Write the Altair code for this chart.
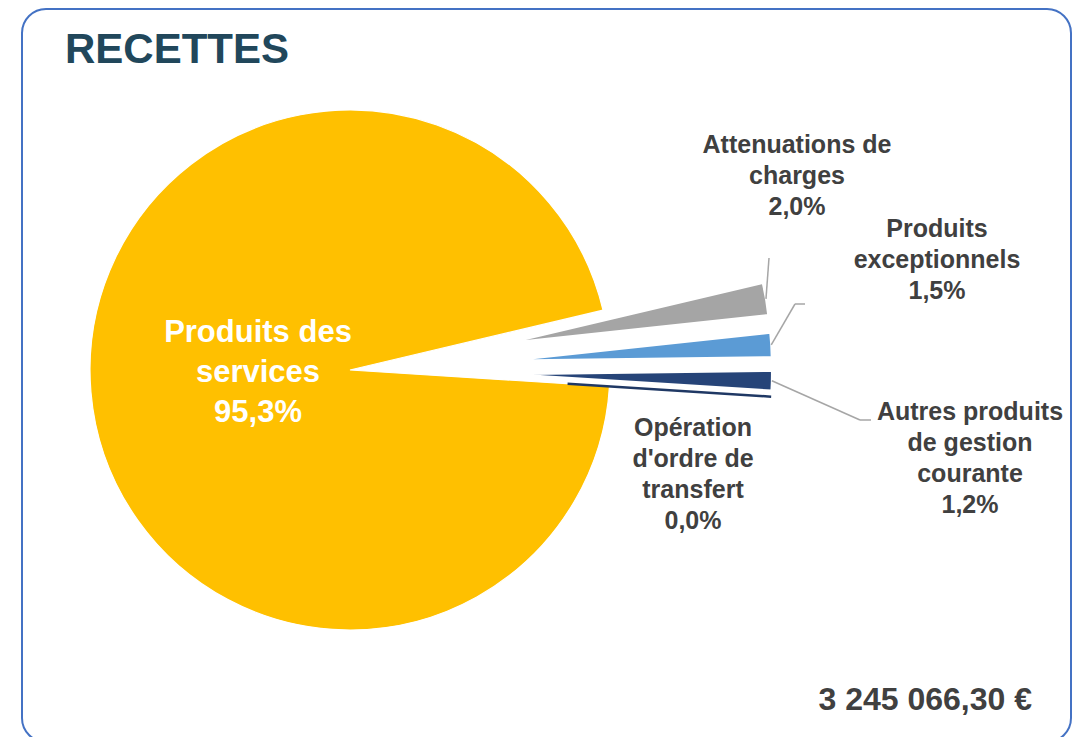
import altair as alt
import pandas as pd

# ---------------- data ----------------
CATEGORIES = [
    "Attenuations de charges",
    "Produits exceptionnels",
    "Autres produits de gestion courante",
    "Opération d'ordre de transfert",
    "Produits des services",
]
VALUES = [2.0, 1.5, 1.2, 0.0, 95.3]
TITLE = "RECETTES"
TOTAL_LABEL = "3 245 066,30 €"

# ---------------- style / layout ----------------
COLORS = ["#A5A5A5", "#5B9BD5", "#264478", "#1F3864", "#FFC000"]
STROKES = ["white", "white", "white", "#1F3864", "white"]
STROKE_W = [2, 2, 2, 2.5, 1.2]
EXPLODE = [162, 162, 162, 162, 0]
CX, CY, R = 342, 362, 260
ZERO_INNER = 56   # hidden inner part of the zero-width slice (white border in reference)
START = 1.3387  # radians, clockwise from 12 o'clock

WRAP = {
    "Attenuations de charges": ["Attenuations de", "charges"],
    "Produits exceptionnels": ["Produits", "exceptionnels"],
    "Autres produits de gestion courante": ["Autres produits", "de gestion", "courante"],
    "Opération d'ordre de transfert": ["Opération", "d'ordre de", "transfert"],
    "Produits des services": ["Produits des", "services"],
}
LABEL_POS = {  # centre x, first-line y
    "Attenuations de charges": (789, 137),
    "Produits exceptionnels": (929, 221),
    "Autres produits de gestion courante": (962, 404),
    "Opération d'ordre de transfert": (685, 420),
    "Produits des services": (250, 325),
}
LEADER = {
    "Attenuations de charges": (761, 250, 761),
    "Produits exceptionnels": (787, 296, 797),
    "Autres produits de gestion courante": (852, 412, 863),
}
INSIDE = ["Produits des services"]


def pct(v):
    return f"{v:.1f}".replace(".", ",") + "%"


df = pd.DataFrame({
    "category": CATEGORIES,
    "value": VALUES,
    "order": list(range(len(CATEGORIES))),
    "color": COLORS,
    "stroke": STROKES,
    "sw": STROKE_W,
    "explode": EXPLODE,
    "label": ["\n".join(WRAP[c] + [pct(v)]) for c, v in zip(CATEGORIES, VALUES)],
    "lx": [LABEL_POS[c][0] for c in CATEGORIES],
    "ly": [LABEL_POS[c][1] for c in CATEGORIES],
    "inside": [c in INSIDE for c in CATEGORIES],
    "ex": [LEADER[c][0] if c in LEADER else None for c in CATEGORIES],
    "ey": [LEADER[c][1] if c in LEADER else None for c in CATEGORIES],
    "hx": [LEADER[c][2] if c in LEADER else None for c in CATEGORIES],
})

base = (
    alt.Chart(df)
    .transform_window(cum="sum(value)", sort=[alt.SortField("order")])
    .transform_joinaggregate(total="sum(value)")
    .transform_calculate(
        t0=f"{START} + 2*PI*(datum.cum - datum.value)/datum.total",
        t1=f"{START} + 2*PI*datum.cum/datum.total",
    )
    .transform_calculate(mid="(datum.t0 + datum.t1)/2")
    .transform_calculate(
        px=f"{CX} + datum.explode*sin(datum.mid)",
        py=f"{CY} - datum.explode*cos(datum.mid)",
        sx=f"{CX} + (datum.explode + {R})*sin(datum.mid)",
        sy=f"{CY} - (datum.explode + {R})*cos(datum.mid)",
    )
)

FONT = "Liberation Sans"

border = alt.Chart(pd.DataFrame({"k": [0]})).mark_rect(
    fill="white", stroke="#4472C4", strokeWidth=2, cornerRadius=24
).encode(x=alt.value(14), x2=alt.value(1063), y=alt.value(1), y2=alt.value(734))

arc_enc = dict(
    x=alt.X("px:Q", scale=None, axis=None),
    y=alt.Y("py:Q", scale=None, axis=None),
    theta=alt.Theta("t0:Q", scale=None, stack=None),
    theta2="t1:Q",
    fill=alt.Fill("color:N", scale=None),
    stroke=alt.Stroke("stroke:N", scale=None),
    strokeWidth=alt.StrokeWidth("sw:Q", scale=None),
    order=alt.Order("order:Q"),
)
arcs = base.transform_filter("datum.value > 0").mark_arc(radius=R).encode(**arc_enc)
zero_arcs = base.transform_filter("datum.value == 0").mark_arc(
    radius=R, radius2=ZERO_INNER
).encode(**arc_enc)

lead = base.transform_filter("isValid(datum.ex)")
leader1 = lead.mark_rule(color="#A6A6A6", strokeWidth=1.5).encode(
    x=alt.X("sx:Q", scale=None, axis=None),
    y=alt.Y("sy:Q", scale=None, axis=None),
    x2="ex:Q",
    y2="ey:Q",
)
leader2 = lead.mark_rule(color="#A6A6A6", strokeWidth=1.5).encode(
    x=alt.X("ex:Q", scale=None, axis=None),
    y=alt.Y("ey:Q", scale=None, axis=None),
    x2="hx:Q",
    y2="ey:Q",
)

labels_out = alt.Chart(df).transform_filter("!datum.inside").mark_text(
    font=FONT, fontWeight="bold", fontSize=25, lineHeight=31, color="#404040",
    align="center", baseline="middle", lineBreak="\n",
).encode(
    x=alt.X("lx:Q", scale=None, axis=None),
    y=alt.Y("ly:Q", scale=None, axis=None),
    text="label:N",
)

labels_in = alt.Chart(df).transform_filter("datum.inside").mark_text(
    font=FONT, fontWeight="bold", fontSize=31, lineHeight=40, color="white",
    align="center", baseline="middle", lineBreak="\n",
).encode(
    x=alt.X("lx:Q", scale=None, axis=None),
    y=alt.Y("ly:Q", scale=None, axis=None),
    text="label:N",
)

title = alt.Chart(pd.DataFrame({"t": [TITLE]})).mark_text(
    font=FONT, fontWeight="bold", fontSize=42, color="#21475B",
    align="left", baseline="alphabetic",
).encode(x=alt.value(57), y=alt.value(55), text="t:N")

total = alt.Chart(pd.DataFrame({"t": [TOTAL_LABEL]})).mark_text(
    font=FONT, fontWeight="bold", fontSize=32, color="#404040",
    align="right", baseline="middle",
).encode(x=alt.value(1024), y=alt.value(692), text="t:N")

chart = alt.layer(
    border, arcs, zero_arcs, leader1, leader2, labels_out, labels_in, title, total
).properties(
    width=1064, height=729, padding=0,
    autosize=alt.AutoSizeParams(type="none"),
).configure_view(stroke="transparent")

chart.save("out.html", embed_options={"renderer": "svg", "actions": False})
